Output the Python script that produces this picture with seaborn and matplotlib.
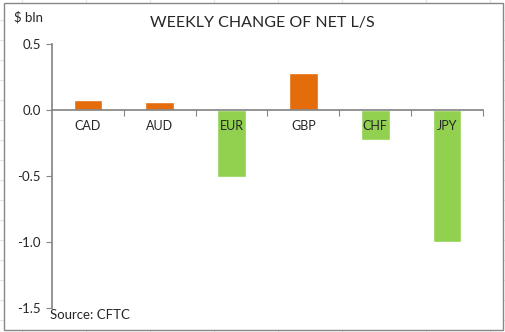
import matplotlib
matplotlib.use("Agg")
import matplotlib.pyplot as plt
import seaborn as sns
import pandas as pd
from matplotlib.patches import Rectangle
from matplotlib.lines import Line2D

categories = ["CAD", "AUD", "EUR", "GBP", "CHF", "JPY"]
values = [0.076, 0.063, -0.505, 0.28, -0.23, -1.0]
y_ticks = [0.5, 0.0, -0.5, -1.0, -1.5]
y_tick_labels = ["0.5", "0.0", "-0.5", "-1.0", "-1.5"]

ORANGE = "#E46C0A"
GREEN = "#92D050"
AXIS = "#868686"

sns.set_theme(style="white")
plt.rcParams["font.family"] = ["Lato", "DejaVu Sans"]

df = pd.DataFrame({"cur": categories, "val": values})
df["sign"] = ["pos" if v >= 0 else "neg" for v in values]

W, H = 506, 332
fig = plt.figure(figsize=(W / 100, H / 100), dpi=100)
fig.patch.set_facecolor("white")

# spreadsheet grid behind the chart
for xp in [22, 86, 150, 214, 278, 342, 426, 490]:
    fig.add_artist(Line2D([xp / W, xp / W], [0, 1], color="#E3E3E3", lw=0.8, zorder=-3))
for yp in [20, 40, 60, 80, 100, 120, 140, 160, 180, 200, 220, 240, 260, 280, 300, 320]:
    fig.add_artist(Line2D([0, 1], [1 - yp / H, 1 - yp / H], color="#E3E3E3", lw=0.8, zorder=-3))
fig.add_artist(Rectangle((4 / W, 1 - 330 / H), 499 / W, 327 / H, transform=fig.transFigure,
                         facecolor="white", edgecolor="#888888", lw=1.0, zorder=-2))

ax = fig.add_axes([52 / W, 1 - 308 / H, (483 - 52) / W, (308 - 44) / H])
ax.set_zorder(1)
ax.patch.set_visible(False)
sns.barplot(data=df, x="cur", y="val", hue="sign", order=categories,
            palette={"pos": ORANGE, "neg": GREEN}, width=0.4, dodge=False,
            legend=False, ax=ax, saturation=1)

ax.set_xlim(-0.5, len(categories) - 0.5)
ax.set_ylim(-1.5, 0.5)
ax.set_yticks(y_ticks)
ax.set_yticklabels(y_tick_labels, fontsize=9.5, color="#262626")
ax.set_xticks([i + 0.5 for i in range(len(categories))])
ax.set_xticklabels([])
ax.set_xlabel("")
ax.set_ylabel("")
for s in ["top", "right"]:
    ax.spines[s].set_visible(False)
ax.spines["left"].set_color(AXIS)
ax.spines["bottom"].set_color(AXIS)
ax.spines["bottom"].set_position(("data", 0))
ax.tick_params(axis="y", length=4, color=AXIS, width=0.8, pad=4, left=True)
ax.tick_params(axis="x", length=4, color=AXIS, width=0.8, direction="out", bottom=True)

for i, c in enumerate(categories):
    ax.annotate(c, xy=(i, 0), xytext=(0, -7), textcoords="offset points",
                ha="center", va="top", fontsize=9, color="#262626")

fig.text(262 / W, 1 - 23 / H, "WEEKLY CHANGE OF NET L/S", ha="center", va="center",
         fontsize=11.5, color="#262626")
fig.text(14 / W, 1 - 17 / H, "$ bln", ha="left", va="center", fontsize=9.5, color="#262626")
fig.text(50 / W, 1 - 315 / H, "Source: CFTC", ha="left", va="center", fontsize=9.5, color="#262626")

fig.savefig("out.png", dpi=100)
